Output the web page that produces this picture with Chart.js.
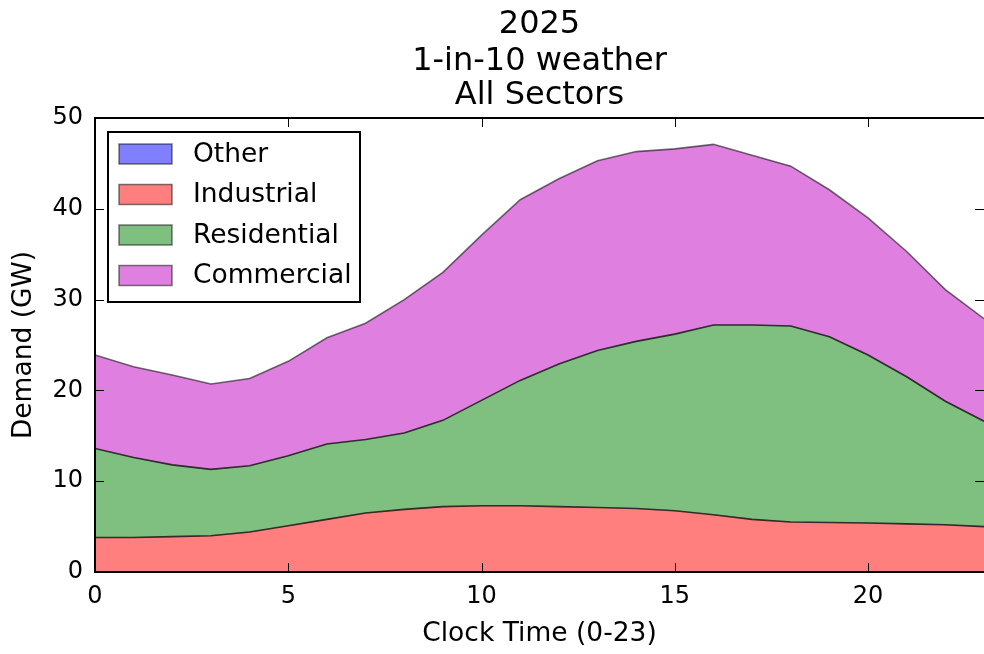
<!DOCTYPE html>
<html>
<head>
<meta charset="utf-8">
<title>2025 1-in-10 weather - All Sectors</title>
<script src="https://cdn.jsdelivr.net/npm/chart.js@4.4.1/dist/chart.umd.min.js"></script>
<style>
  html, body { margin: 0; padding: 0; background: #fff; }
  #wrap { width: 984px; height: 654px; position: relative; }
</style>
</head>
<body>
<div id="wrap"><canvas id="chart"></canvas></div>
<script>
// hourly demand by sector, GW (stacked in this order)
const hours = [0, 1, 2, 3, 4, 5, 6, 7, 8, 9, 10, 11, 12, 13, 14, 15, 16, 17, 18, 19, 20, 21, 22, 23];
const other       = [0, 0, 0, 0, 0, 0, 0, 0, 0, 0, 0, 0, 0, 0, 0, 0, 0, 0, 0, 0, 0, 0, 0, 0];
const industrial  = [3.8, 3.8, 3.9, 4.0, 4.4, 5.1, 5.8, 6.5, 6.9, 7.2, 7.3, 7.3, 7.2, 7.1, 7.0, 6.75, 6.3, 5.8, 5.5, 5.45, 5.4, 5.3, 5.2, 5.0];
const residential = [9.8, 8.8, 7.9, 7.3, 7.3, 7.7, 8.3, 8.1, 8.4, 9.5, 11.6, 13.8, 15.7, 17.3, 18.4, 19.45, 20.9, 21.4, 21.6, 20.45, 18.5, 16.2, 13.6, 11.6];
const commercial  = [10.3, 10.0, 9.9, 9.4, 9.6, 10.4, 11.7, 12.8, 14.7, 16.3, 18.2, 19.9, 20.4, 20.9, 20.9, 20.4, 19.9, 18.7, 17.6, 16.2, 15.1, 13.8, 12.3, 11.3];

const xTicks = [0, 5, 10, 15, 20];
const yTicks = [0, 10, 20, 30, 40, 50];
const titleLines = ['2025', '1-in-10 weather', 'All Sectors'];

const FONT = "'DejaVu Sans', sans-serif";

// frame around the plot with inward tick marks on all four sides
const framePlugin = {
  id: 'frame',
  afterDatasetsDraw(chart) {
    const { ctx, chartArea: a, scales: { x, y } } = chart;
    const len = 9;
    ctx.save();
    ctx.strokeStyle = '#000';
    ctx.lineWidth = 1;
    ctx.beginPath();
    xTicks.forEach(v => {
      const px = Math.round(x.getPixelForValue(v)) + 0.5;
      ctx.moveTo(px, a.bottom); ctx.lineTo(px, a.bottom - len);
      ctx.moveTo(px, a.top); ctx.lineTo(px, a.top + len);
    });
    yTicks.forEach(v => {
      const py = Math.round(y.getPixelForValue(v)) + 0.5;
      ctx.moveTo(a.left, py); ctx.lineTo(a.left + len, py);
      ctx.moveTo(a.right, py); ctx.lineTo(a.right - len, py);
    });
    ctx.stroke();
    ctx.lineWidth = 2;
    ctx.strokeRect(a.left, a.top, a.right - a.left + 2, a.bottom - a.top);
    ctx.restore();
  }
};

// three-line title centred over the plot area
const titlePlugin = {
  id: 'plotTitle',
  afterDraw(chart) {
    const { ctx, chartArea: a } = chart;
    const cx = (a.left + a.right) / 2;
    const baselines = [33, 70, 104];
    ctx.save();
    ctx.fillStyle = '#000';
    ctx.font = '32px ' + FONT;
    ctx.textAlign = 'center';
    ctx.textBaseline = 'alphabetic';
    titleLines.forEach((t, i) => ctx.fillText(t, cx, baselines[i]));
    ctx.restore();
  }
};

// boxed legend in the upper left corner of the plot
const boxLegend = {
  id: 'boxLegend',
  afterDraw(chart) {
    const { ctx } = chart;
    const box = { x: 108, y: 132, w: 252, h: 170 };
    ctx.save();
    ctx.fillStyle = '#fff';
    ctx.fillRect(box.x, box.y, box.w, box.h);
    ctx.strokeStyle = '#000';
    ctx.lineWidth = 2;
    ctx.strokeRect(box.x, box.y, box.w, box.h);
    ctx.font = '26.5px ' + FONT;
    ctx.textBaseline = 'middle';
    ctx.textAlign = 'left';
    chart.data.datasets.forEach((ds, i) => {
      const cy = 154 + i * 40.5;
      ctx.fillStyle = ds.backgroundColor;
      ctx.fillRect(119, cy - 10, 53, 20);
      ctx.strokeStyle = 'rgba(0,0,0,0.5)';
      ctx.lineWidth = 1.5;
      ctx.strokeRect(119, cy - 10, 53, 20);
      ctx.fillStyle = '#000';
      ctx.fillText(ds.label, 193, cy + 1);
    });
    ctx.restore();
  }
};

function layer(label, data, fillColor, edgeColor, fill) {
  return {
    label, data,
    backgroundColor: fillColor,
    borderColor: edgeColor,
    borderWidth: 1.6,
    pointRadius: 0,
    tension: 0,
    fill
  };
}

const chart = new Chart(document.getElementById('chart'), {
  type: 'line',
  data: {
    labels: hours,
    datasets: [
      layer('Other',       other,       '#7f7fff', 'rgba(0,0,0,0.5)',  'origin'),
      layer('Industrial',  industrial,  '#ff7f7f', 'rgba(0,0,0,0.75)', '-1'),
      layer('Residential', residential, '#7fbf7f', 'rgba(0,0,0,0.75)', '-1'),
      layer('Commercial',  commercial,  '#df7fdf', 'rgba(0,0,0,0.55)', '-1')
    ]
  },
  options: {
    responsive: true,
    maintainAspectRatio: false,
    animation: false,
    layout: { padding: { top: 118, right: 0, bottom: 0, left: 0 } },
    plugins: {
      legend: { display: false },
      title: { display: false },
      tooltip: { enabled: false }
    },
    scales: {
      x: {
        type: 'linear',
        min: 0, max: 23,
        afterBuildTicks: s => { s.ticks = xTicks.map(v => ({ value: v })); },
        afterFit: s => { s.height = 82; },
        grid: { display: false, drawTicks: false },
        border: { display: false },
        ticks: { color: '#000', font: { family: FONT, size: 24 }, padding: 10, maxRotation: 0 },
        title: { display: true, text: 'Clock Time (0-23)', color: '#000', font: { family: FONT, size: 26.5 }, padding: { bottom: 4 } }
      },
      y: {
        stacked: true,
        min: 0, max: 50,
        afterBuildTicks: s => { s.ticks = yTicks.map(v => ({ value: v })); },
        afterFit: s => { s.width = 95; },
        grid: { display: false, drawTicks: false },
        border: { display: false },
        ticks: { color: '#000', font: { family: FONT, size: 24 }, padding: 12 },
        title: { display: true, text: 'Demand (GW)', color: '#000', font: { family: FONT, size: 26.5 }, padding: { top: 8 } }
      }
    }
  },
  plugins: [framePlugin, titlePlugin, boxLegend]
});
</script>
</body>
</html>
